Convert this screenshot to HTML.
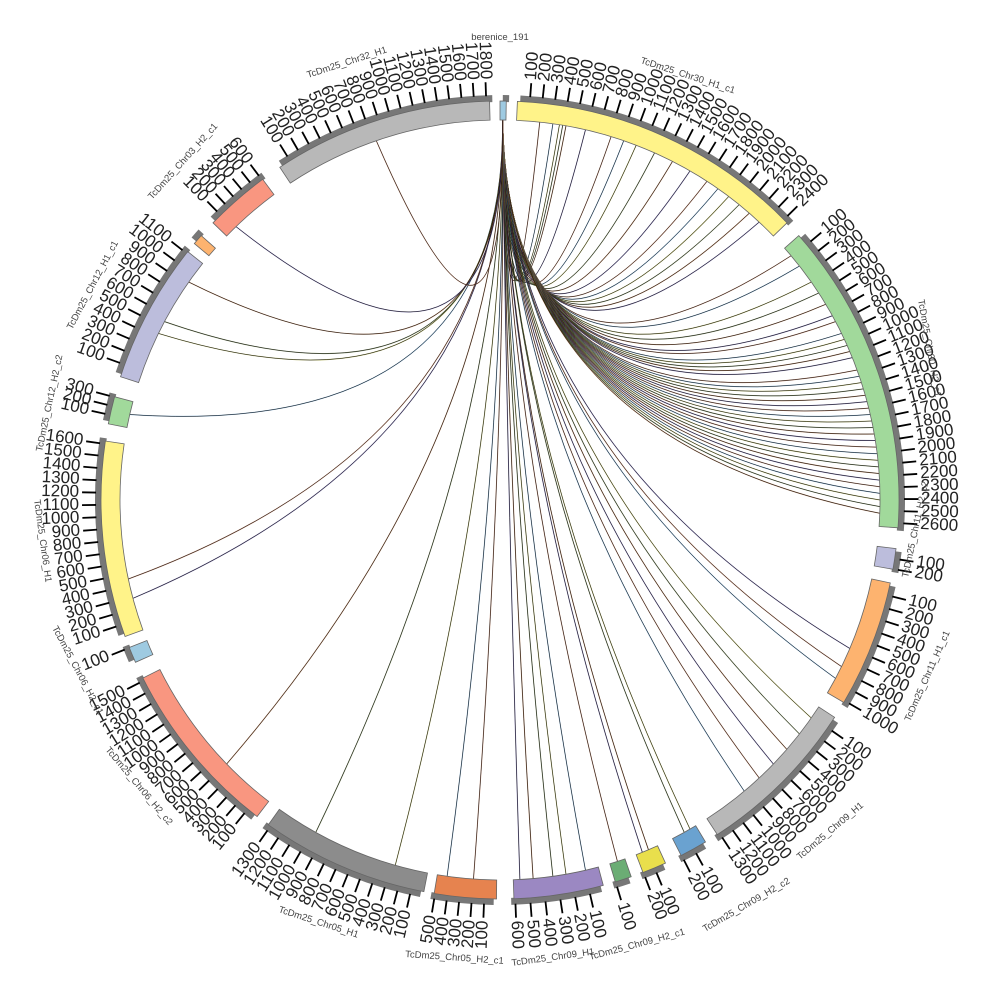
<!DOCTYPE html>
<html><head><meta charset="utf-8"><style>
html,body{margin:0;padding:0;background:#fff}
svg{display:block}
text{font-family:"Liberation Sans",sans-serif}
</style></head><body>
<svg id="s" width="1000" height="1000" viewBox="0 0 1000 1000" xmlns="http://www.w3.org/2000/svg">
<rect width="1000" height="1000" fill="#fff"/>
<g id="links"></g>
<g id="segs"></g>
<g id="names" font-size="9.5" fill="#444">
<text x="500" y="40" text-anchor="middle">berenice_191</text>
<text transform="translate(640,63) rotate(18)">TcDm25_Chr30_H1_c1</text>
<text transform="translate(918,300) rotate(80)">TcDm25_Chr30_H2_c1</text>
<text transform="translate(908,578) rotate(-78)">TcDm25_Chr11_H2_c2</text>
<text transform="translate(910,722) rotate(-66)">TcDm25_Chr11_H1_c1</text>
<text transform="translate(800,860) rotate(-40)">TcDm25_Chr09_H1</text>
<text transform="translate(705,932) rotate(-30)">TcDm25_Chr09_H2_c2</text>
<text transform="translate(590,960) rotate(-15)">TcDm25_Chr09_H2_c1</text>
<text transform="translate(512,966) rotate(-8)">TcDm25_Chr09_H1</text>
<text transform="translate(405,957) rotate(4)">TcDm25_Chr05_H2_c1</text>
<text transform="translate(278,912) rotate(18)">TcDm25_Chr05_H1</text>
<text transform="translate(105,750) rotate(50)">TcDm25_Chr06_H2_c2</text>
<text transform="translate(52,628) rotate(62)">TcDm25_Chr06_H2_c1</text>
<text transform="translate(34,500) rotate(82)">TcDm25_Chr06_H1</text>
<text transform="translate(42,452) rotate(-78)">TcDm25_Chr12_H2_c2</text>
<text transform="translate(72,330) rotate(-62)">TcDm25_Chr12_H1_c1</text>
<text transform="translate(152,200) rotate(-48)">TcDm25_Chr03_H2_c1</text>
<text transform="translate(308,78) rotate(-18)">TcDm25_Chr32_H1</text>
</g>
</svg>
<script>
var NS="http://www.w3.org/2000/svg",cx=500,cy=500;
function P(a,r){var t=a*Math.PI/180;return[cx+r*Math.sin(t),cy-r*Math.cos(t)];}
function el(tag,attrs,parent,txt){var e=document.createElementNS(NS,tag);for(var k in attrs)e.setAttribute(k,attrs[k]);if(txt)e.textContent=txt;parent.appendChild(e);return e;}
function arc(a0,a1,r0,r1){var p0=P(a0,r1),p1=P(a1,r1),p2=P(a1,r0),p3=P(a0,r0),l=(a1-a0)>180?1:0;
return "M"+p0+" A"+r1+","+r1+" 0 "+l+" 1 "+p1+" L"+p2+" A"+r0+","+r0+" 0 "+l+" 0 "+p3+"Z";}
var segs=[
[0,0.9,"#9ecae1",0],[2.5,46,"#fff389",2400],[48.5,94,"#a1d99b",2600],[97,100,"#bcbddc",200],
[102,120.5,"#fdb36f",1000],[123,147,"#b8b8b8",1300],[149,153,"#6aa2d0",200],[155.5,159,"#e9df4c",200],
[160.8,163.2,"#6bad74",100],[165,178,"#9b88c2",600],[180.5,189.5,"#e6834f",500],[191,215.5,"#8c8c8c",1300],
[217.5,243.5,"#f99680",1500],[246,248.3,"#9ecae1",100],[250,278.5,"#fff389",1600],[281,285,"#a1d99b",300],
[288,308.5,"#bcbddc",1100],[310,311.5,"#fdb36f",0],[314,323.5,"#f99680",600],[326.5,358.5,"#b8b8b8",1800]];
var g=document.getElementById("segs"),L=document.getElementById("links");
segs.forEach(function(s){
 el("path",{d:arc(s[0]+0.4,s[1]+0.4,398,405),fill:"#777"},g);
 el("path",{d:arc(s[0],s[1],380,399),fill:s[2],stroke:"#666","stroke-width":"0.8"},g);
 if(s[3]>0){var n=s[3]/100,span=s[1]-s[0];
  for(var i=1;i<=n;i++){var a=s[0]+span*i/n*0.985;
   var q0=P(a,404),q1=P(a,418);el("line",{x1:q0[0],y1:q0[1],x2:q1[0],y2:q1[1],stroke:"#000","stroke-width":"1.8"},g);
   var q=P(a,421),rot,anc;
   if(a<180){rot=a-90;anc="start";}else{rot=a+90;anc="end";}
   el("text",{transform:"translate("+q[0]+","+q[1]+") rotate("+rot+")","text-anchor":anc,"dominant-baseline":"middle","font-size":"17",fill:"#222"},g,String(i*100));}}
});
var tg=[6,8,9,9.5,10,13,17,19,21,24,27,30,33,35,37,39,41,43,50,52,55,57,59,61,62,64,65,66,67,68,70,71,72,73,74,75,76,77,78,79,80,81,82,83,84,85,86,87,88,89,90,91,92,113,116,118,125,128,131,134,137,140,150,151,157,158,162,167,170,172,175,177,184,188,196,209,226,255,258,283,296,298,305,316,341];
var cols=["#a0522d","#4682b4","#9a9a30","#556b2f","#8b4513","#483d8b"];
tg.forEach(function(a,i){var s=P(0.4,380),e=P(a,380);
 var d="M"+s+" Q"+(cx+6)+","+(cy-60)+" "+e;
 el("path",{d:d,fill:"none",stroke:cols[i%6],"stroke-width":"1","stroke-opacity":"0.7"},L);
 el("path",{d:d,fill:"none",stroke:"#111","stroke-width":"0.5"},L);});
</script>
</body></html>
